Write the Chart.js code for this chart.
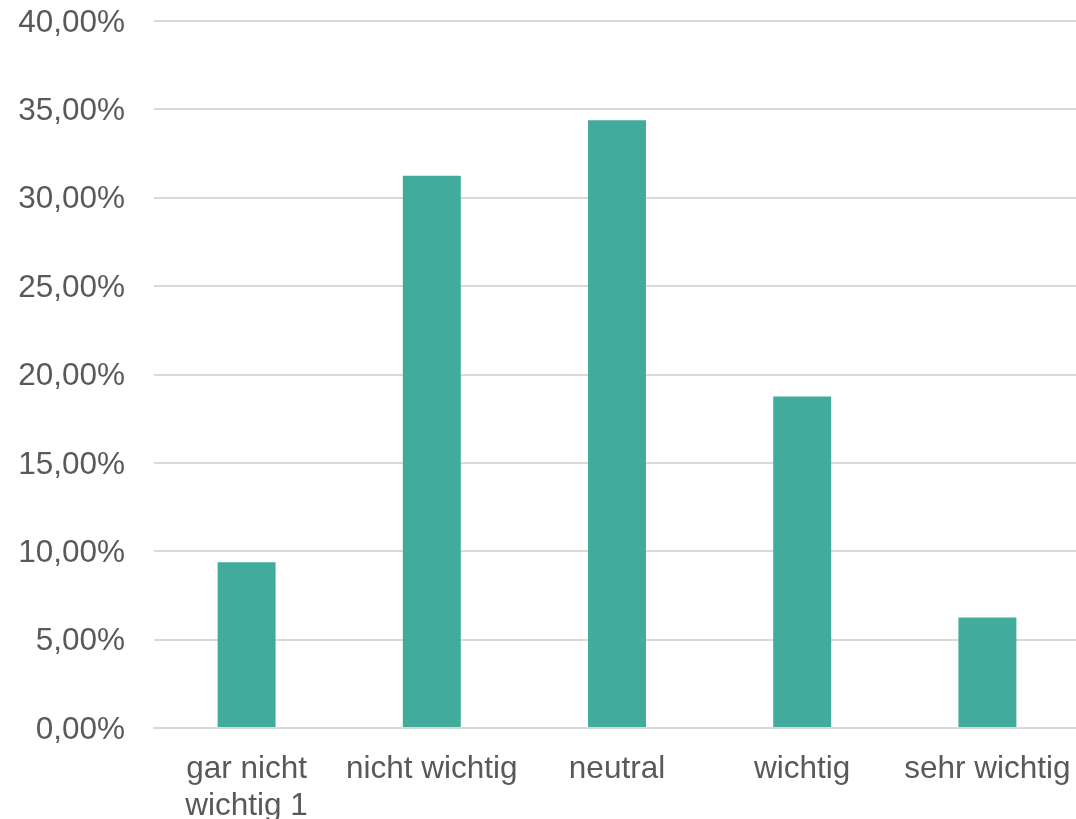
<!DOCTYPE html>
<html>
<head>
<meta charset="utf-8">
<script src="https://cdn.jsdelivr.net/npm/chart.js@4"></script>
<style>
  html, body { margin: 0; padding: 0; background: #fff; overflow: hidden; }
  #wrap { width: 1080px; height: 819px; }
</style>
</head>
<body>
<div id="wrap"><canvas id="barChart" width="1080" height="819"></canvas></div>
<script>
const categories = [["gar nicht", "wichtig 1"], "nicht wichtig", "neutral", "wichtig", "sehr wichtig"];
const shares = [9.38, 31.25, 34.38, 18.75, 6.25];
const yTicks = [0, 5, 10, 15, 20, 25, 30, 35, 40];

const gray = "#595959";
const gridGray = "#d9d9d9";
const font = { family: "'Liberation Sans', Arial, sans-serif", size: 31.5 };

// Zahlen im deutschen Format: 40,00%
function pct(v) {
  return v.toFixed(2).replace(".", ",") + "%";
}

const ctx = document.getElementById("barChart").getContext("2d");
new Chart(ctx, {
  type: "bar",
  data: {
    labels: categories,
    datasets: [{
      data: shares,
      backgroundColor: "#41ac9b",
      categoryPercentage: 1,
      barPercentage: 0.313
    }]
  },
  options: {
    responsive: false,
    animation: false,
    layout: { padding: { top: 21, right: 0, bottom: 0, left: 0 } },
    plugins: { legend: { display: false }, tooltip: { enabled: false } },
    scales: {
      x: {
        grid: { display: false, drawTicks: false },
        border: { color: gridGray, width: 2 },
        ticks: { color: gray, font: font, padding: 22, maxRotation: 0, autoSkip: false },
        afterFit: s => { s.height = 91; s.paddingLeft = 0; s.paddingRight = 0; }
      },
      y: {
        min: 0,
        max: 40,
        afterBuildTicks: s => { s.ticks = yTicks.map(v => ({ value: v })); },
        grid: { color: gridGray, lineWidth: 2, drawTicks: false },
        border: { display: false },
        ticks: { color: gray, font: font, padding: 29, labelOffset: 2, callback: v => pct(v) },
        afterFit: s => { s.width = 154; s.paddingTop = 0; s.paddingBottom = 0; }
      }
    }
  }
});
</script>
</body>
</html>
